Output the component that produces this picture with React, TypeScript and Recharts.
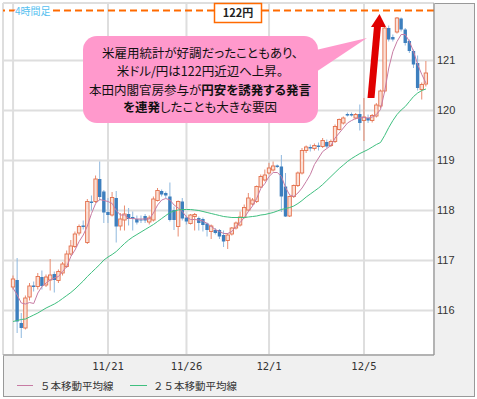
import React from "react";
import {
  Bar,
  CartesianGrid,
  ComposedChart,
  Line,
  ReferenceLine,
  XAxis,
  YAxis,
} from "recharts";

// 4時間足 USD/JPY, 11/17 - 12/8
const opens = [
  116.47, 116.61, 115.75, 115.65, 116.27, 116.5, 116.48, 116.67, 116.51, 116.61,
  116.73, 116.6, 116.75, 116.88, 117.13, 117.28, 117.55, 117.7, 117.36, 118.18,
  118.18, 118.63, 118.38, 117.97, 117.91, 118.25, 117.69, 117.81, 117.93, 117.87,
  117.83, 117.82, 117.89, 117.77, 117.81, 118.2, 118.39, 118.35, 118.28, 118.01,
  117.68, 118.18, 117.86, 117.74, 117.88, 117.85, 117.83, 117.74, 117.58, 117.61,
  117.61, 117.51, 117.4, 117.53, 117.65, 117.71, 117.86, 118.01, 118.13, 118.18,
  118.47, 118.61, 118.75, 118.81, 118.9, 118.88, 118.48, 117.89, 118.28, 118.5,
  118.75, 119.2, 119.27, 119.24, 119.3, 119.28, 119.37, 119.3, 119.38, 119.62,
  119.75, 119.93, 119.93, 119.85, 119.93, 119.8, 119.85, 119.8, 119.89, 120.09,
  120.39, 121.65, 121.47, 121.57, 121.84, 121.62, 121.39, 121.19, 120.95, 120.42,
  120.53,
];
const highs = [
  116.7, 117.05, 115.95, 116.3, 116.55, 116.58, 116.75, 116.8, 116.72, 117.03,
  116.78, 116.82, 116.97, 117.2, 117.41, 117.58, 117.72, 117.8, 118.23, 118.3,
  118.7, 118.98, 118.41, 118.25, 118.37, 118.39, 117.95, 118.1, 118.05, 117.98,
  117.9, 117.9, 117.93, 117.9, 118.28, 118.45, 118.42, 118.38, 118.56, 118.08,
  118.2, 118.25, 117.9, 117.93, 117.95, 117.88, 117.86, 117.76, 117.72, 117.65,
  117.63, 117.6, 117.55, 117.67, 117.78, 117.98, 118.12, 118.35, 118.25, 118.5,
  118.72, 118.82, 118.95, 118.98, 118.92, 119.11, 118.75, 118.3, 118.52, 118.78,
  119.25, 119.3, 119.32, 119.34, 119.36, 119.45, 119.42, 119.42, 119.72, 119.84,
  119.88, 119.96, 119.96, 119.95, 120.12, 120.25, 119.92, 119.93, 120.15, 120.42,
  121.72, 121.7, 121.52, 121.87, 121.86, 121.65, 121.42, 121.22, 121.1, 120.56,
  120.99,
];
const lows = [
  116.42, 115.55, 115.45, 115.62, 116.2, 116.38, 116.42, 116.42, 116.47, 116.4,
  116.36, 116.55, 116.7, 116.85, 117.1, 117.25, 117.5, 117.62, 117.33, 118.0,
  118.15, 118.2, 117.75, 117.75, 117.88, 117.36, 117.6, 117.6, 117.7, 117.6,
  117.72, 117.75, 117.75, 117.72, 117.78, 118.18, 118.28, 118.25, 117.78, 117.61,
  117.48, 117.8, 117.72, 117.72, 117.6, 117.6, 117.58, 117.48, 117.43, 117.52,
  117.43, 117.27, 117.23, 117.5, 117.62, 117.68, 117.84, 117.98, 118.1, 118.15,
  118.45, 118.58, 118.72, 118.78, 118.85, 117.97, 117.87, 117.87, 118.25, 118.47,
  118.72, 119.15, 119.18, 119.2, 119.2, 119.25, 119.25, 119.27, 119.35, 119.6,
  119.72, 119.88, 119.88, 119.82, 119.6, 119.39, 119.75, 119.76, 119.86, 120.05,
  120.35, 121.38, 121.38, 121.54, 121.58, 121.3, 121.15, 120.85, 120.4, 120.22,
  120.48,
];
const closes = [
  116.63, 115.78, 115.65, 116.25, 116.49, 116.47, 116.68, 116.49, 116.67, 116.71,
  116.61, 116.78, 116.93, 117.13, 117.29, 117.53, 117.68, 117.67, 118.18, 118.15,
  118.63, 118.27, 117.96, 117.91, 118.26, 117.68, 117.83, 117.93, 117.83, 117.83,
  117.76, 117.8, 117.8, 117.85, 118.23, 118.4, 118.32, 118.3, 117.81, 117.81,
  118.18, 117.84, 117.78, 117.91, 117.92, 117.75, 117.71, 117.61, 117.69, 117.55,
  117.48, 117.38, 117.51, 117.65, 117.75, 117.87, 118.06, 118.25, 118.21, 118.48,
  118.68, 118.71, 118.85, 118.89, 118.87, 118.28, 117.88, 118.28, 118.5, 118.75,
  119.2, 119.27, 119.24, 119.3, 119.27, 119.4, 119.28, 119.38, 119.68, 119.82,
  119.85, 119.9, 119.9, 119.92, 119.75, 119.87, 119.8, 119.9, 120.11, 120.39,
  121.65, 121.42, 121.42, 121.85, 121.62, 121.35, 121.19, 120.92, 120.45, 120.52,
  120.75,
];
const ma5 = [
  116.45, 116.31, 116.15, 116.13, 116.16, 116.14, 116.35, 116.48, 116.55, 116.61,
  116.65, 116.68, 116.78, 116.88, 117.08, 117.21, 117.38, 117.51, 117.69, 117.94,
  118.14, 118.22, 118.2, 118.18, 118.14, 118.0, 117.91, 117.91, 117.84, 117.84,
  117.83, 117.83, 117.83, 117.83, 117.95, 118.11, 118.21, 118.24, 118.21, 118.11,
  118.05, 117.98, 117.87, 117.82, 117.82, 117.81, 117.79, 117.74, 117.68, 117.62,
  117.58, 117.54, 117.54, 117.58, 117.68, 117.76, 117.86, 117.98, 118.09, 118.24,
  118.44, 118.54, 118.68, 118.76, 118.76, 118.68, 118.46, 118.31, 118.28, 118.35,
  118.45, 118.58, 118.72, 118.92, 119.05, 119.18, 119.24, 119.3, 119.45, 119.55,
  119.65, 119.75, 119.8, 119.84, 119.85, 119.86, 119.85, 119.87, 119.92, 120.02,
  120.38, 120.85, 121.18, 121.38, 121.52, 121.52, 121.38, 121.18, 120.92, 120.72,
  120.55,
];
const ma25 = [
  115.78, 115.8, 115.82, 115.83, 115.87, 115.91, 115.95, 116.0, 116.05, 116.09,
  116.13, 116.18, 116.24, 116.3, 116.36, 116.43, 116.51, 116.59, 116.68, 116.76,
  116.84, 116.92, 117.01, 117.07, 117.12, 117.18, 117.26, 117.34, 117.41, 117.47,
  117.52, 117.57, 117.62, 117.67, 117.72, 117.78, 117.84, 117.9, 117.96, 117.99,
  118.01, 118.02, 118.02, 118.02, 118.01, 118.0, 117.98, 117.96, 117.94, 117.92,
  117.9, 117.88, 117.87, 117.86, 117.86, 117.86, 117.86, 117.87, 117.88, 117.89,
  117.91, 117.92, 117.94, 117.96, 117.99, 118.02, 118.04, 118.06, 118.09, 118.14,
  118.2, 118.27, 118.33, 118.39, 118.45, 118.52, 118.6, 118.68, 118.76, 118.84,
  118.91, 118.98, 119.04, 119.09, 119.14, 119.18, 119.22, 119.27, 119.32, 119.36,
  119.5, 119.66, 119.8, 119.92, 120.01, 120.08, 120.18, 120.28, 120.35, 120.4,
  120.43,
];

const tickIdx = [0, 23, 42, 62, 85];
const tickLabels = ["", "11/21", "11/26", "12/1", "12/5"];
const yTicks = [116, 117, 118, 119, 120, 121];
const seriesNames = ["５本移動平均線", "２５本移動平均線"];
const seriesColors = ["#c77ba3", "#3fbf7f"];
const targetLevel = 122;

const data = opens.map((o, i) => ({
  i,
  o,
  h: highs[i],
  l: lows[i],
  c: closes[i],
  ma5: ma5[i],
  ma25: ma25[i],
}));

function Candle(props: any) {
  const { x, y, width, height, payload } = props;
  if (x == null || y == null) return null;
  const { o, h, l, c } = payload;
  const top = Math.min(y, y + height);
  const bot = Math.max(y, y + height);
  const span = h - l;
  const py = (v: number) => (span === 0 ? top : top + ((h - v) / span) * (bot - top));
  const cx = x + width / 2;
  const up = c >= o;
  const bTop = py(Math.max(o, c));
  const bBot = Math.max(py(Math.min(o, c)), bTop + 1);
  const bw = 3.4;
  if (up) {
    return (
      <g>
        <line x1={cx} x2={cx} y1={top} y2={bot} stroke="#e98c70" strokeWidth={1} />
        <rect
          x={cx - bw / 2}
          y={bTop}
          width={bw}
          height={bBot - bTop}
          fill="#fbe0d6"
          stroke="#e4704c"
          strokeWidth={0.9}
        />
      </g>
    );
  }
  return (
    <g>
      <line x1={cx} x2={cx} y1={top} y2={bot} stroke="#8fb8de" strokeWidth={1} />
      <rect x={cx - bw / 2} y={bTop} width={bw} height={bBot - bTop} fill="#3d7fbe" />
    </g>
  );
}

const cjk = '"Noto Sans CJK JP", sans-serif';

export default function App() {
  return (
    <div style={{ position: "absolute", left: 0, top: 0, width: 477, height: 399, background: "#fff" }}>
      <div
        style={{
          position: "absolute",
          left: 3,
          top: 3,
          width: 472,
          height: 394,
          boxSizing: "border-box",
          border: "1px solid #999",
          background: "#f0f0f0",
        }}
      />
      <div style={{ position: "absolute", left: 0, top: 0 }}>
        <ComposedChart width={477} height={399} data={data} margin={{ top: 3, right: 0, left: 3, bottom: 14 }}>
          <CartesianGrid stroke="#dedede" strokeWidth={2} fill="#fff" />
          <XAxis
            dataKey="i"
            type="category"
            ticks={tickIdx}
            interval={0}
            padding={{ left: 8, right: 6 }}
            height={30}
            tickLine={false}
            tickSize={0}
            tickMargin={8}
            axisLine={{ stroke: "#888" }}
            tick={{ fontFamily: "DejaVu Sans Mono", fontSize: 10.5, fill: "#333" }}
            tickFormatter={(v) => tickLabels[tickIdx.indexOf(Number(v))] ?? ""}
          />
          <YAxis
            orientation="right"
            width={43}
            domain={[115.11, 122.15]}
            allowDataOverflow
            ticks={yTicks}
            tickLine={false}
            tickSize={0}
            tickMargin={3}
            axisLine={{ stroke: "#888" }}
            tick={{ fontFamily: "Liberation Sans", fontSize: 11, fill: "#333", textAnchor: "start" }}
          />
          <Bar
            dataKey={(d: any) => [d.l, d.h]}
            barSize={4}
            shape={Candle}
            legendType="none"
            isAnimationActive={false}
          />
          <Line
            dataKey="ma5"
            name={seriesNames[0]}
            stroke={seriesColors[0]}
            strokeWidth={1}
            dot={false}
            type="linear"
            isAnimationActive={false}
          />
          <Line
            dataKey="ma25"
            name={seriesNames[1]}
            stroke={seriesColors[1]}
            strokeWidth={1}
            dot={false}
            type="linear"
            isAnimationActive={false}
          />
          <ReferenceLine y={targetLevel} stroke="#ff6a00" strokeWidth={2} strokeDasharray="7 4" />
        </ComposedChart>
      </div>
      <svg width={477} height={399} style={{ position: "absolute", left: 0, top: 0, pointerEvents: "none" }}>
        <text
          x={15}
          y={15}
          fontSize={10}
          fontFamily={cjk}
          fill="#55bff0"
          stroke="#fff"
          strokeWidth={2}
          paintOrder="stroke"
        >
          4時間足
        </text>
        <rect x={214.5} y={3.5} width={47} height={19} fill="#fff" stroke="#ff6a00" strokeWidth={1.5} />
        <text x={238} y={17} textAnchor="middle" fontSize={11} fontWeight="bold" fontFamily={cjk} fill="#222">
          122円
        </text>
        <rect x={83} y={36} width={235} height={87} rx={14} ry={14} fill="#ff99cc" />
        <polygon points="316,50 367,38 316,72" fill="#ff99cc" />
        <g fontFamily={cjk} fontSize={12.5} fill="#111" textAnchor="middle" style={{ fontFeatureSettings: "'palt'" }}>
          <text x={200} y={57.5}>米雇用統計が好調だったこともあり、</text>
          <text x={200} y={76}>米ドル/円は122円近辺へ上昇。</text>
          <text x={200} y={94.5}>
            本田内閣官房参与が<tspan fontWeight="bold">円安を誘発する発言</tspan>
          </text>
          <text x={200} y={112}>
            <tspan fontWeight="bold">を連発</tspan>したことも大きな要因
          </text>
        </g>
        <polygon points="367.5,98 374.5,98 381,26 374,26" fill="#e00000" />
        <polygon points="371,27 379.5,14 386,27" fill="#e00000" />
        <g fontFamily={cjk} fontSize={10.5} fill="#333">
          <line x1={17} x2={33} y1={385.5} y2={385.5} stroke={seriesColors[0]} />
          <text x={40} y={389.5}>{seriesNames[0]}</text>
          <line x1={130} x2={147} y1={385.5} y2={385.5} stroke={seriesColors[1]} />
          <text x={153} y={389.5}>{seriesNames[1]}</text>
        </g>
      </svg>
    </div>
  );
}
